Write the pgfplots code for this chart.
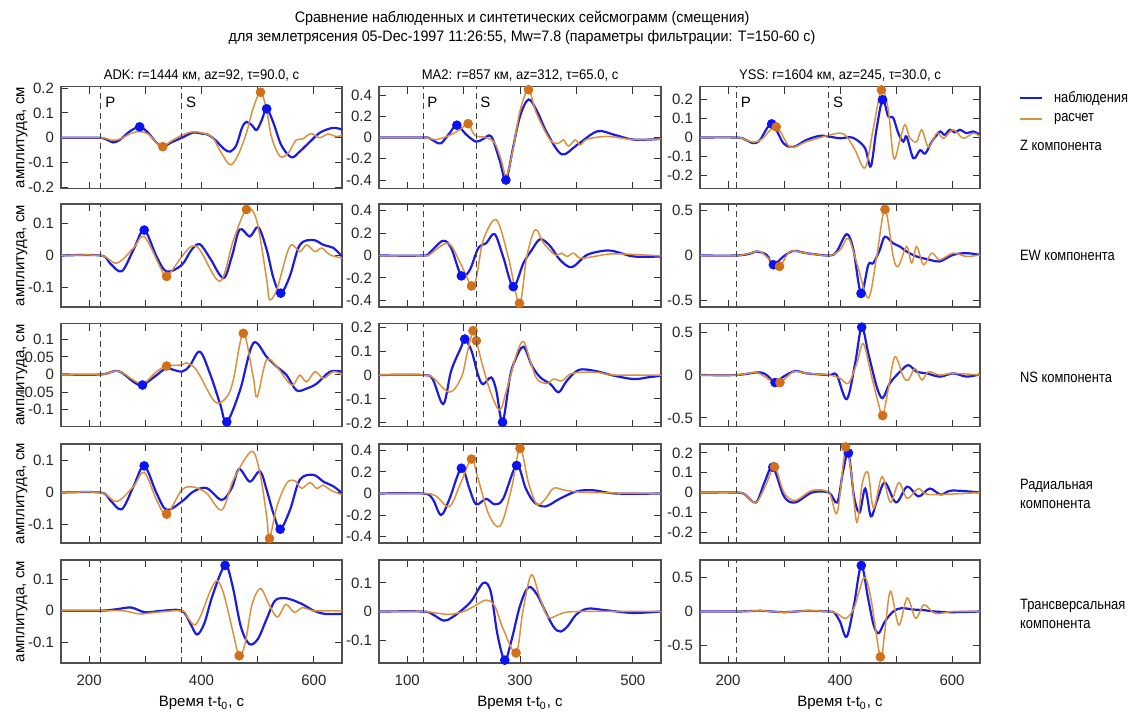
\documentclass[border=0pt]{standalone}
\usepackage{fontspec}
\setmainfont{Liberation Sans}
\usepackage{pgfplots}
\pgfplotsset{compat=1.18}
\definecolor{obsblue}{HTML}{1C1CE0}
\definecolor{obsdot}{HTML}{0A14F0}
\definecolor{synline}{HTML}{D8913E}
\definecolor{syndot}{HTML}{D2701A}
\definecolor{frame}{HTML}{505050}
\newcommand{\tickfont}{\fontsize{7.5}{9}\selectfont}
\newcommand{\labfont}{\fontsize{7.5}{9.5}\selectfont}
\pgfplotsset{
  panel/.style={
    scale only axis, anchor=north west, width=140.5pt, height=51pt,
    axis line style={draw=frame, line width=0.6pt},
    tick align=inside, major tick length=3.5pt,
    tick style={black!80, line width=0.5pt},
    ticklabel style={font=\tickfont, text=black!85},
    /pgf/number format/assume math mode=true,
    yticklabel style={/pgf/number format/fixed, /pgf/number format/precision=2},
    xticklabel style={yshift=-2.5pt},
    scaled y ticks=false, scaled x ticks=false,
    xticklabels={}, clip mode=individual,
  },
  c13/.style={xmin=150, xmax=650, xtick={200,300,400,500,600}},
  c2/.style={xmin=50, xmax=550, xtick={100,200,300,400,500}},
  obs/.style={color=obsblue, line width=1.1pt, smooth, tension=0.55, no markers},
  syn/.style={color=synline, line width=0.75pt, smooth, tension=0.55, no markers},
  odot/.style={only marks, mark=*, mark size=2.2pt, color=obsdot},
  sdot/.style={only marks, mark=*, mark size=2.2pt, color=syndot},
}
\tikzset{phase/.style={draw=black!75, line width=0.5pt, dash pattern=on 3pt off 2pt}}
\newcommand{\phaseline}[1]{\draw[phase] ({axis cs:#1,0}|-{rel axis cs:0,0}) -- ({axis cs:#1,0}|-{rel axis cs:0,1});}
\newcommand{\phaselabel}[2]{\node[anchor=north west, font=\labfont, inner sep=0pt, xshift=2pt, yshift=-5pt] at ({axis cs:#1,0}|-{rel axis cs:0,1}) {#2};}

\begin{document}
\begin{tikzpicture}
\useasboundingbox (0,0) rectangle (569pt,-356.5pt);

% titles
\node[font=\fontsize{7.6}{9}\selectfont, xscale=0.94] at (261pt,-9pt) {Сравнение наблюденных и синтетических сейсмограмм (смещения)};
\node[font=\fontsize{7.6}{9}\selectfont, xscale=0.94] at (261pt,-19pt) {для землетрясения 05-Dec-1997 11:26:55, Mw=7.8 (параметры фильтрации: T=150-60 с)};
\node[font=\fontsize{7}{9}\selectfont, xscale=0.93] at (100.75pt,-38pt) {ADK: r=1444 км, az=92, τ=90.0, с};
\node[font=\fontsize{7}{9}\selectfont, xscale=0.93] at (260pt,-38pt) {MA2: r=857 км, az=312, τ=65.0, с};
\node[font=\fontsize{7}{9}\selectfont, xscale=0.93] at (420pt,-38pt) {YSS: r=1604 км, az=245, τ=30.0, с};

% legend and component labels
\draw[obsblue, line width=1.1pt] (510pt,-49pt) -- (521pt,-49pt);
\node[anchor=west, font=\labfont, xscale=0.86] at (524pt,-49pt) {наблюдения};
\draw[synline, line width=0.75pt] (510pt,-59.5pt) -- (521pt,-59.5pt);
\node[anchor=west, font=\labfont, xscale=0.86] at (524pt,-59.5pt) {расчет};
\node[anchor=west, font=\labfont, xscale=0.86] at (507pt,-72.5pt) {Z компонента};
\node[anchor=west, font=\labfont, xscale=0.86] at (507pt,-127.5pt) {EW компонента};
\node[anchor=west, font=\labfont, xscale=0.86] at (507pt,-188.5pt) {NS компонента};
\node[anchor=west, font=\labfont, xscale=0.86, align=left] at (507pt,-247pt) {Радиальная\\компонента};
\node[anchor=west, font=\labfont, xscale=0.86, align=left] at (507pt,-307pt) {Трансверсальная\\компонента};

% y labels
\foreach \yc in {-68.75,-127.75,-187.5,-246.75,-305.75}
  \node[rotate=90, font=\fontsize{7.5}{9}\selectfont] at (11pt,\yc pt) {амплитуда, см};
% x labels
\foreach \xc in {100.75,260,420}
  \node[font=\fontsize{7.5}{9}\selectfont] at (\xc pt,-351.5pt) {Время t-t\textsubscript{0}, с};

%================ ROW 1: Z ================
\begin{axis}[panel, c13, at={(30.5pt,-43.25pt)}, ymin=-0.205, ymax=0.207, ytick={-0.2,-0.1,0,0.1,0.2}]
\addplot[obs] coordinates {(150,0)(200,0)(221,0)(232,-0.008)(243,-0.019)(255,-0.008)(272,0.025)(290,0.044)(305,0.02)(320,-0.02)(332,-0.036)(345,-0.02)(365,0)(385,0.021)(400,0.017)(412,0.012)(425,-0.01)(440,-0.045)(451,-0.056)(462,-0.03)(472,0.04)(480,0.064)(490,0.05)(498,0.031)(507,0.07)(516,0.117)(528,0.06)(542,-0.03)(560,-0.079)(575,-0.055)(593,-0.016)(611,0.021)(634,0.04)(650,0.033)};
\addplot[syn] coordinates {(150,0)(221,0)(240,-0.01)(255,-0.005)(275,0.018)(290,0.025)(305,0.015)(320,-0.02)(331,-0.036)(345,-0.015)(365,0.01)(385,0.024)(405,0.017)(420,0.0)(435,-0.06)(451,-0.109)(465,-0.07)(480,0.02)(492,0.12)(505,0.184)(515,0.12)(525,0.0)(540,-0.076)(555,-0.06)(568,-0.01)(580,-0.005)(595,0.017)(610,0.0)(625,0.015)(640,0.005)(650,0.01)};
\addplot[odot] coordinates {(290,0.044)(516,0.117)};
\addplot[sdot] coordinates {(331,-0.036)(505,0.184)};
\phaseline{221}\phaseline{365}\phaselabel{221}{P}\phaselabel{365}{S}
\end{axis}

\begin{axis}[panel, c2, at={(189.5pt,-43.25pt)}, width=141pt, ymin=-0.48, ymax=0.48, ytick={-0.4,-0.2,0,0.2,0.4}]
\addplot[obs] coordinates {(50,0)(128,0)(139,-0.006)(150,-0.04)(160,-0.055)(175,0.04)(188,0.116)(205,0.026)(222,-0.039)(234,-0.016)(249,0.01)(264,-0.216)(275,-0.40)(288,-0.087)(300,0.2)(315,0.358)(330,0.25)(348,0.042)(374,-0.158)(401,-0.07)(437,0.058)(467,0.026)(502,-0.02)(550,-0.013)};
\addplot[syn] coordinates {(50,0)(128,0)(150,-0.02)(175,0.02)(195,0.08)(208,0.13)(220,0.02)(240,0.0)(255,-0.05)(266,-0.2)(276,-0.36)(288,-0.1)(300,0.25)(315,0.45)(329,0.23)(353,-0.02)(368,-0.055)(377,-0.023)(386,-0.08)(398,-0.023)(407,-0.07)(419,-0.016)(455,0.01)(502,-0.02)(550,-0.013)};
\addplot[odot] coordinates {(188,0.116)(275,-0.40)};
\addplot[sdot] coordinates {(208,0.13)(315,0.45)};
\phaseline{128}\phaseline{222}\phaselabel{128}{P}\phaselabel{222}{S}
\end{axis}

\begin{axis}[panel, c13, at={(350pt,-43.25pt)}, width=140pt, ymin=-0.27, ymax=0.27, ytick={-0.2,-0.1,0,0.1,0.2}]
\addplot[obs] coordinates {(150,0)(215,0)(230,-0.01)(245,-0.03)(257,-0.013)(278,0.072)(299,-0.03)(317,-0.05)(340,-0.013)(364,0.009)(380,0.005)(400,-0.004)(418,0.002)(430,-0.013)(445,-0.058)(455,-0.153)(465,0.041)(476,0.20)(486,0.113)(495,0.104)(504,0.023)(513,-0.022)(519,0.005)(531,-0.11)(543,-0.067)(552,-0.085)(564,-0.022)(573,0.014)(579,0.032)(587,0.014)(596,0.041)(605,0.027)(614,0.041)(626,0.023)(638,0.032)(650,0.014)};
\addplot[syn] coordinates {(150,0)(215,0)(230,-0.01)(245,-0.025)(260,-0.01)(286,0.056)(311,-0.05)(340,-0.022)(376,0.009)(400,0.023)(412,0.005)(427,-0.067)(445,-0.16)(459,0.041)(474,0.252)(486,0.15)(496,-0.11)(507,-0.013)(516,0.068)(525,-0.004)(537,-0.022)(546,0.041)(558,-0.05)(573,0.023)(585,-0.004)(602,0.041)(620,-0.004)(638,0.023)(650,0.005)};
\addplot[odot] coordinates {(278,0.072)(476,0.20)};
\addplot[sdot] coordinates {(286,0.056)(474,0.252)};
\phaseline{215}\phaseline{380}\phaselabel{215}{P}\phaselabel{380}{S}
\end{axis}

%================ ROW 2: EW ================
\begin{axis}[panel, c13, at={(30.5pt,-102pt)}, height=51.5pt, ymin=-0.16, ymax=0.16, ytick={-0.1,0,0.1}]
\addplot[obs] coordinates {(150,0)(221,0)(237,-0.024)(258,-0.049)(279,0.018)(298,0.079)(320,-0.003)(338,-0.05)(365,-0.029)(382,0.017)(397,0.035)(415,-0.008)(439,-0.07)(454,-0.003)(468,0.081)(486,0.059)(501,0.088)(516,0.018)(528,-0.07)(541,-0.117)(557,-0.065)(575,0.033)(599,0.048)(617,0.033)(635,0.023)(650,-0.003)};
\addplot[syn] coordinates {(150,0)(221,0)(249,-0.024)(279,0.023)(298,0.059)(326,-0.034)(338,-0.065)(365,-0.003)(382,0.028)(397,0.018)(433,-0.08)(457,0.049)(480,0.143)(498,0.110)(516,-0.075)(521,-0.137)(534,-0.106)(557,0.028)(575,0.012)(587,0.033)(602,0.012)(614,0.023)(629,0.002)(650,-0.008)};
\addplot[odot] coordinates {(298,0.079)(541,-0.117)};
\addplot[sdot] coordinates {(338,-0.065)(480,0.143)};
\phaseline{221}\phaseline{365}
\end{axis}

\begin{axis}[panel, c2, at={(189.5pt,-102pt)}, width=141pt, height=51.5pt, ymin=-0.46, ymax=0.46, ytick={-0.4,-0.2,0,0.2,0.4}]
\addplot[obs] coordinates {(50,0)(128,0)(139,0.021)(163,0.131)(178,0.066)(196,-0.182)(211,-0.128)(226,0.066)(240,0.110)(255,0.191)(270,-0.009)(288,-0.278)(306,-0.069)(321,0.051)(336,0.146)(354,0.081)(371,-0.039)(392,-0.104)(419,0.006)(455,0.045)(479,0.021)(502,-0.009)(550,-0.009)};
\addplot[syn] coordinates {(50,0)(128,0)(139,0.006)(172,0.110)(193,-0.054)(214,-0.272)(223,-0.188)(235,0.140)(258,0.319)(279,-0.009)(299,-0.427)(312,-0.009)(327,0.230)(342,0.110)(362,0.006)(374,0.021)(383,-0.009)(395,0.021)(407,-0.024)(431,-0.009)(467,0.015)(550,-0.003)};
\addplot[odot] coordinates {(196,-0.182)(288,-0.278)};
\addplot[sdot] coordinates {(214,-0.272)(299,-0.427)};
\phaseline{128}\phaseline{222}
\end{axis}

\begin{axis}[panel, c13, at={(350pt,-102pt)}, width=140pt, height=51.5pt, ymin=-0.57, ymax=0.57, ytick={-0.5,0,0.5}]
\addplot[obs] coordinates {(150,0)(215,0)(239,0.02)(251,0.044)(269,0.007)(281,-0.102)(299,-0.011)(317,0.051)(340,0.026)(380,0)(394,0.044)(412,0.237)(424,0.062)(437.5,-0.42)(450.6,-0.102)(459.5,-0.084)(471,0.062)(480,0.208)(495,0.135)(507,0.099)(519,0.044)(537,-0.011)(561,-0.048)(578,-0.066)(602,0.007)(626,0.026)(650,0.007)};
\addplot[syn] coordinates {(150,0)(215,0)(239,0.026)(257,0.044)(275,-0.047)(292,-0.120)(311,0.044)(340,0.026)(380,0)(400,0.062)(415,0.19)(430,-0.084)(450.6,-0.47)(465.5,-0.011)(480.3,0.51)(495,-0.011)(504,-0.120)(519,0.099)(528,-0.084)(537,0.099)(549,-0.102)(564,0.026)(578,-0.047)(602,0.026)(626,-0.011)(650,0.007)};
\addplot[odot] coordinates {(281,-0.102)(437.5,-0.42)};
\addplot[sdot] coordinates {(292,-0.12)(480.3,0.51)};
\phaseline{215}\phaseline{380}
\end{axis}

%================ ROW 3: NS ================
\begin{axis}[panel, c13, at={(30.5pt,-161.75pt)}, height=51.5pt, ymin=-0.148, ymax=0.145, ytick={-0.1,-0.05,0,0.05,0.1}]
\addplot[obs] coordinates {(150,0)(221,0)(252,0.010)(279,-0.021)(295,-0.030)(320,-0.002)(338,0.017)(365,0.008)(379.5,0.026)(397,0.065)(415,0.003)(433,-0.083)(445,-0.135)(468.5,-0.045)(492,0.089)(516,0.050)(534,0.022)(551.5,-0.002)(569,-0.045)(587,-0.040)(605,-0.026)(628.6,0.008)(650,0.008)};
\addplot[syn] coordinates {(150,0)(221,0)(252,0.010)(279,-0.016)(296.5,-0.026)(320,0.008)(338,0.024)(365,0.027)(373.6,0.033)(391.4,0.012)(424,-0.078)(444.8,-0.064)(456.6,-0.016)(474.4,0.117)(492,-0.007)(499,-0.064)(515.6,0.041)(534,0.022)(551.5,-0.016)(563,-0.030)(575,-0.002)(587,-0.021)(602,0.008)(617,-0.011)(634.6,0.008)(650,0)};
\addplot[odot] coordinates {(295,-0.03)(445,-0.135)};
\addplot[sdot] coordinates {(338,0.024)(474.4,0.117)};
\phaseline{221}\phaseline{365}
\end{axis}

\begin{axis}[panel, c2, at={(189.5pt,-161.75pt)}, width=141pt, height=51.5pt, ymin=-0.215, ymax=0.215, ytick={-0.2,-0.1,0,0.1,0.2}]
\addplot[obs] coordinates {(50,0)(128,0)(145,-0.017)(164,-0.121)(178,0.018)(196,0.118)(202,0.150)(214,0.101)(226,-0.003)(234.5,-0.038)(249,-0.010)(258,-0.065)(269,-0.197)(282,-0.010)(291,0.060)(306,0.118)(321,0.039)(336,-0.010)(354,-0.038)(368.5,-0.072)(383,-0.024)(404,0.021)(431,0.018)(467,-0.003)(502,-0.017)(526,-0.010)(550,-0.003)};
\addplot[syn] coordinates {(50,0)(128,0)(145,-0.010)(175,-0.072)(196,-0.010)(206,0.088)(216.7,0.185)(222.6,0.143)(234.5,0.032)(249,-0.079)(264,-0.146)(276,-0.065)(294,0.088)(306,0.140)(318,0.060)(330,-0.017)(348,-0.035)(359.5,-0.017)(374,-0.024)(389,0.004)(407,0.011)(437,0.011)(467,0)(550,0)};
\addplot[odot] coordinates {(202,0.15)(269,-0.197)};
\addplot[sdot] coordinates {(216.7,0.185)(222.6,0.143)};
\phaseline{128}\phaseline{222}
\end{axis}

\begin{axis}[panel, c13, at={(350pt,-161.75pt)}, width=140pt, height=51.5pt, ymin=-0.6, ymax=0.6, ytick={-0.5,0,0.5}]
\addplot[obs] coordinates {(150,0)(215,0)(254,0.031)(269,0)(284,-0.088)(299,-0.019)(320,0.046)(340.5,0.019)(380,0)(394,0)(412,-0.281)(427,0.135)(438.7,0.558)(450.6,0.25)(465.5,-0.135)(476,-0.269)(489,-0.096)(507,0.038)(522,0.115)(537,0.038)(555,0.019)(578.5,-0.019)(602,0.019)(626,-0.019)(650,0.008)};
\addplot[syn] coordinates {(150,0)(215,0)(251,0.027)(275,-0.058)(293,-0.088)(317,0.038)(340.5,0.019)(380,0)(400,-0.038)(415,-0.096)(430,0.135)(441.6,0.365)(456.5,-0.019)(468.4,-0.327)(476.2,-0.473)(486,-0.173)(498,0.212)(513,-0.019)(522,-0.058)(534,0.077)(546,-0.058)(558,0.038)(578.5,0)(602,0.019)(650,0)};
\addplot[odot] coordinates {(284,-0.088)(438.7,0.558)};
\addplot[sdot] coordinates {(292.8,-0.088)(476.2,-0.473)};
\phaseline{215}\phaseline{380}
\end{axis}

%================ ROW 4: Radial ================
\begin{axis}[panel, c13, at={(30.5pt,-222pt)}, height=49.5pt, ymin=-0.157, ymax=0.151, ytick={-0.1,0,0.1}]
\addplot[obs] coordinates {(150,0)(221,0)(237,-0.023)(258,-0.052)(279,0.019)(298,0.083)(320,-0.002)(338,-0.054)(365,-0.028)(385.5,0.003)(409,0.014)(436,-0.023)(454,0.015)(467,0.073)(486,0.034)(504,0.066)(516,0.008)(528,-0.065)(540,-0.114)(557.5,-0.054)(575,0.04)(599,0.055)(617,0.034)(635,0.019)(650,-0.002)};
\addplot[syn] coordinates {(150,0)(221,0)(249,-0.028)(279,0.019)(298,0.063)(320,-0.023)(338,-0.067)(365,0.008)(385.5,0.017)(409,-0.002)(436,-0.054)(457,0.040)(489,0.128)(504,0.06)(516,-0.075)(521,-0.143)(534,-0.044)(551.5,0.029)(566,0.037)(578,0.013)(593,0.031)(605,0.013)(617,0.023)(629,0.008)(650,-0.007)};
\addplot[odot] coordinates {(298,0.083)(540,-0.114)};
\addplot[sdot] coordinates {(338,-0.067)(521,-0.143)};
\phaseline{221}\phaseline{365}
\end{axis}

\begin{axis}[panel, c2, at={(189.5pt,-222pt)}, width=141pt, height=49.5pt, ymin=-0.46, ymax=0.46, ytick={-0.4,-0.2,0,0.2,0.4}]
\addplot[obs] coordinates {(50,0)(128,0)(145,-0.05)(160,-0.2)(175,-0.05)(196,0.235)(210,0.05)(222,-0.1)(240,-0.05)(255,-0.1)(270,-0.05)(294,0.26)(310,0.05)(325,-0.08)(345,-0.12)(370,-0.05)(400,0.02)(430,0.03)(470,0)(550,0)};
\addplot[syn] coordinates {(50,0)(128,0)(150,-0.02)(175,-0.12)(195,0.1)(214,0.32)(225,0.15)(245,-0.2)(265,-0.3)(285,0.05)(300,0.42)(315,0.1)(330,-0.1)(345,-0.05)(360,0.05)(380,0.03)(420,0.01)(550,0)};
\addplot[odot] coordinates {(196,0.235)(294,0.26)};
\addplot[sdot] coordinates {(214,0.32)(300,0.42)};
\phaseline{128}\phaseline{222}
\end{axis}

\begin{axis}[panel, c13, at={(350pt,-222pt)}, width=140pt, height=49.5pt, ymin=-0.255, ymax=0.245, ytick={-0.2,-0.1,0,0.1,0.2}]
\addplot[obs] coordinates {(150,0)(215,0)(230,-0.01)(250,-0.05)(265,0.05)(280,0.128)(300,-0.02)(320,-0.05)(350,0)(380,0)(395,-0.05)(405,0.1)(415,0.2)(425,-0.02)(435,-0.1)(445,0.02)(455,-0.12)(465,-0.05)(480,0.05)(500,-0.05)(520,0.03)(540,-0.02)(560,0.02)(580,-0.01)(600,0.01)(650,0)};
\addplot[syn] coordinates {(150,0)(215,0)(230,-0.01)(250,-0.05)(268,0.04)(283,0.13)(300,0)(320,-0.04)(350,0.01)(380,0)(395,-0.1)(410,0.23)(420,0.1)(430,-0.15)(440,0.05)(450,0.1)(460,-0.08)(475,0.08)(490,-0.05)(505,0.05)(520,-0.03)(540,0.02)(560,-0.01)(650,0)};
\addplot[odot] coordinates {(280,0.128)(415,0.2)};
\addplot[sdot] coordinates {(283,0.13)(410,0.23)};
\phaseline{215}\phaseline{380}
\end{axis}

%================ ROW 5: Transversal ================
\begin{axis}[panel, c13, at={(30.5pt,-280pt)}, height=51.5pt, ymin=-0.165, ymax=0.16, ytick={-0.1,0,0.1}, xticklabels={200,,400,,600}]
\addplot[obs] coordinates {(150,0)(220,0)(250,0.005)(275,0.01)(300,-0.005)(330,0.0)(365,0.0)(380,-0.04)(392,-0.075)(405,-0.04)(420,0.05)(442,0.143)(455,0.08)(470,-0.05)(485,-0.105)(500,-0.09)(515,-0.03)(530,0.03)(545,0.04)(560,0.035)(580,0.02)(600,0.0)(620,-0.01)(650,-0.01)};
\addplot[syn] coordinates {(150,0)(220,0)(260,0)(290,-0.01)(320,-0.005)(365,0)(375,-0.02)(388,-0.045)(400,-0.01)(415,0.06)(428,0.095)(440,0.05)(455,-0.06)(467,-0.142)(478,-0.1)(490,0.02)(505,0.07)(520,0.02)(535,-0.02)(550,0.02)(565,-0.005)(580,0.01)(600,0)(650,0)};
\addplot[odot] coordinates {(442,0.143)};
\addplot[sdot] coordinates {(467,-0.142)};
\phaseline{221}\phaseline{365}
\end{axis}

\begin{axis}[panel, c2, at={(189.5pt,-280pt)}, width=141pt, height=51.5pt, ymin=-0.18, ymax=0.18, ytick={-0.1,0,0.1}, xticklabels={100,,300,,500}]
\addplot[obs] coordinates {(50,0)(128,0)(145,-0.01)(165,-0.032)(180,-0.02)(200,0.01)(215,0.04)(235,0.1)(248,0.07)(260,-0.08)(273,-0.17)(285,-0.1)(300,0.02)(315,0.085)(330,0.06)(345,0.0)(360,-0.055)(372,-0.07)(385,-0.05)(400,-0.01)(420,0.01)(450,0.005)(500,-0.005)(550,0)};
\addplot[syn] coordinates {(50,0)(128,0)(150,-0.005)(175,-0.01)(200,0.0)(220,0.02)(240,0.04)(255,0.02)(270,-0.06)(293,-0.145)(305,0.0)(320,0.128)(335,0.05)(350,-0.02)(370,-0.01)(400,0.0)(550,0)};
\addplot[odot] coordinates {(273,-0.17)};
\addplot[sdot] coordinates {(293,-0.145)};
\phaseline{128}\phaseline{222}
\end{axis}

\begin{axis}[panel, c13, at={(350pt,-280pt)}, width=140pt, height=51.5pt, ymin=-0.76, ymax=0.76, ytick={-0.5,0,0.5}, xticklabels={200,,400,,600}]
\addplot[obs] coordinates {(150,0)(215,0)(260,0.01)(300,-0.01)(340,0.01)(380,0)(390,-0.02)(400,-0.15)(412,-0.37)(425,0.1)(438,0.68)(450,0.2)(460,-0.2)(469,-0.32)(480,-0.15)(495,0.0)(510,0.05)(530,0.03)(550,0.02)(570,0.0)(600,-0.01)(650,0)};
\addplot[syn] coordinates {(150,0)(215,0)(260,0.01)(300,-0.01)(340,0.01)(380,0)(395,-0.03)(410,-0.1)(425,0.05)(443,0.5)(455,0.2)(472,-0.67)(480,-0.3)(490,0.3)(505,-0.2)(520,0.2)(535,-0.1)(550,0.1)(570,-0.03)(600,0)(650,0)};
\addplot[odot] coordinates {(438,0.68)};
\addplot[sdot] coordinates {(472,-0.67)};
\phaseline{215}\phaseline{380}
\end{axis}

\end{tikzpicture}
\end{document}
